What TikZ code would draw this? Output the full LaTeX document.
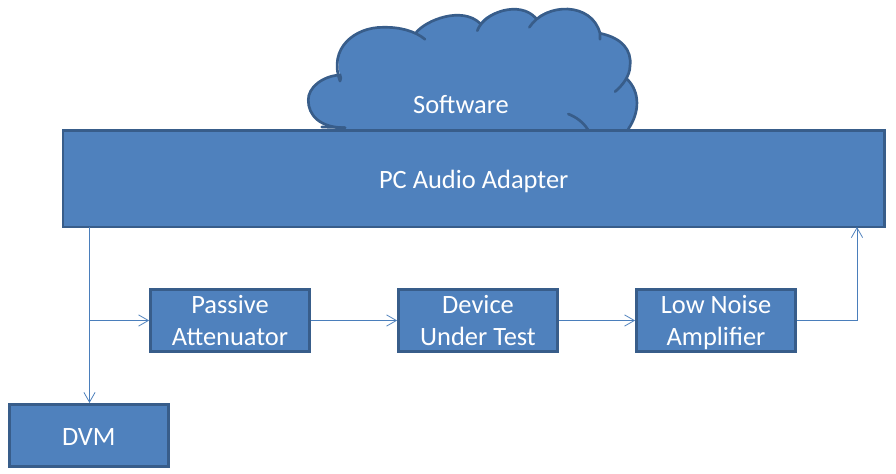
\documentclass[tikz,border=0pt]{standalone}
\usepackage{fontspec}
\usepackage{xcolor}
\usetikzlibrary{arrows.meta}
\setmainfont{Carlito}
\definecolor{myFill}{HTML}{4F81BD}
\definecolor{myEdge}{HTML}{385D8A}
\definecolor{myLink}{HTML}{4A7EBB}
\newcommand{\twolines}[2]{\rule{0pt}{15.4pt}#1\\\smash{#2}\rule[-2pt]{0pt}{2pt}}

\begin{document}
\begin{tikzpicture}[
  x=0.025cm, y=-0.025cm,
  block/.style={draw=myEdge, fill=myFill, line width=1.9pt, text=white, align=center,
    font=\fontsize{18.8}{22.8}\selectfont, inner sep=0pt},
  small/.style={block, minimum width=3.975cm, minimum height=1.55cm},
  link/.style={draw=myLink, line width=0.55pt, -{Straight Barb[length=7pt, width=8pt, line width=0.55pt]}},
  outline/.style={draw=myEdge, line width=1.9pt, line cap=round},
]
  \useasboundingbox (0,0) rectangle (896,474);
  % cloud
  \fill[myFill] (345,131) -- (345,128) .. controls (320,128) and (308,115) .. (308.3,100)
    .. controls (308,88) and (322,76) .. (340,75)
    .. controls (332,45) and (355,27) .. (383.3,27.3)
    .. controls (398,27) and (408,30) .. (416,32.7)
    .. controls (426,20) and (462,6) .. (480,23.3)
    .. controls (488,10) and (520,2) .. (536,18.3)
    .. controls (550,4) and (590,4) .. (600,33.3)
    .. controls (620,38) and (632,50) .. (630,66)
    .. controls (630,72) and (628,76) .. (627.3,79.3)
    .. controls (640,92) and (640,112) .. (628.3,129) -- (628.3,131) -- cycle;
  \draw[outline] (345,127.7) .. controls (320,128) and (308,115) .. (308.3,100)
    .. controls (308,88) and (322,76) .. (340,75) .. controls (341,77) and (341,79) .. (340,81);
  \draw[outline] (340,81) .. controls (328,48) and (355,27) .. (383.3,27.3)
    .. controls (400,27) and (415,31) .. (425,39.3);
  \draw[outline] (416,32.7) .. controls (426,20) and (462,6) .. (480,23.3);
  \draw[outline] (477.3,30.7) .. controls (484,12) and (520,0) .. (536,18.3);
  \draw[outline] (529.3,27.3) .. controls (546,2) and (592,2) .. (600,33.3) -- (600,39.3);
  \draw[outline] (600,33.3) .. controls (622,38) and (632,50) .. (630,66)
    .. controls (630,76) and (622,86) .. (615,91.7);
  \draw[outline] (627.3,79.3) .. controls (640,92) and (640,112) .. (628.3,129);
  \draw[outline] (568.3,114) .. controls (576,117) and (583,122) .. (587.7,129.3);
  \draw[outline] (321.7,127) -- (345,127.7);
  \node (software) at (461,105) [text=white, inner sep=0pt, font=\fontsize{18.8}{22.8}\selectfont] {Software};
  % blocks
  \node[block, minimum width=20.54cm, minimum height=2.41cm] (pc) at (473.75,178.75) {\rule{0pt}{21pt}PC Audio Adapter\strut};
  \node[small] (att) at (230,320.5) {\twolines{Passive}{Attenuator}};
  \node[small] (dut) at (478,320.5) {\twolines{Device}{Under Test}};
  \node[small] (lna) at (716,320.5) {\twolines{Low Noise}{Amplifier}};
  \node[small] (dvm) at (88.8,435.3) {\rule{0pt}{21pt}DVM\strut};
  % connectors
  \coordinate (tap) at (89.5,227);
  \coordinate (back) at (857,227);
  \draw[link] (tap) -- (tap |- dvm.north);
  \draw[link] (tap |- att.west) -- (att.west);
  \draw[link] (att.east) -- (dut.west);
  \draw[link] (dut.east) -- (lna.west);
  \draw[link] (lna.east) -| (back);
\end{tikzpicture}
\end{document}
